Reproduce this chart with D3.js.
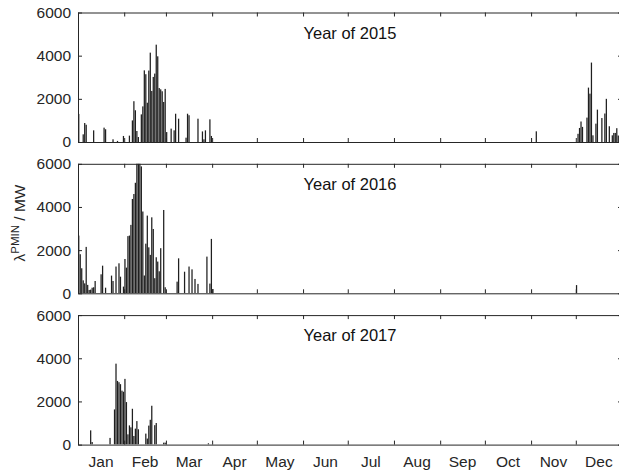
<!DOCTYPE html>
<html>
<head>
<meta charset="utf-8">
<script src="https://cdn.jsdelivr.net/npm/d3@7"></script>
<style>
  body { margin: 0; background: #fff; }
  svg { display: block; font-family: "Liberation Sans", Arial, sans-serif; }
</style>
</head>
<body>
<svg id="chart" width="619" height="472"></svg>
<script>
/* Data: [day of year (0 = 1 Jan), value in MW], days not listed are zero */
var years = ["2015", "2016", "2017"];

var mw2015 = [
  [0,1300],[3,355],[4,880],[5,800],[10,540],[17,665],[18,590],[23,125],[26,50],[30,280],[34,295],
  [36,1000],[37,1890],[38,1470],[39,510],[40,230],
  [42,1280],[43,1650],[44,3320],[45,3140],[46,1820],[47,3310],[48,4140],[49,2365],[50,3015],
  [51,3170],[52,4510],[53,3970],[54,2500],[55,2440],[56,2350],[57,1855],[58,2460],[59,460],
  [62,620],[64,540],[65,1310],[67,1080],[72,200],[73,1310],[74,1240],[80,1080],
  [83,490],[84,125],[85,540],[88,1050],[89,280],
  [307,495],
  [335,380],[336,650],[337,950],[338,700],[341,1130],[342,2520],[343,2240],[344,3680],[345,310],
  [347,850],[348,1500],[351,1110],[353,1320],[354,2000],[356,730],[358,310],[359,420],[360,420],
  [361,640],[362,300],[363,550]
];

var mw2016 = [
  [0,2675],[1,1810],[2,1160],[3,600],[4,460],[5,2150],[6,390],[7,155],[8,170],[9,260],[10,280],[11,570],
  [15,880],[16,1280],[18,260],[22,820],[23,570],[25,1240],[27,1390],[28,770],[30,310],
  [31,1590],[32,1190],[33,2650],[34,2675],[35,3170],[36,4370],[37,4600],[38,5120],[39,6200],
  [40,6200],[41,6200],[42,5880],[43,3790],[44,825],[45,2300],[46,3600],[47,2130],[48,1780],
  [49,3520],[50,2980],[51,700],[52,1670],[53,1470],[54,1020],[55,2090],[57,3860],[58,280],
  [66,540],[67,1620],[71,1000],[74,1240],[76,1110],[78,665],[80,435],[86,1700],[88,450],[89,2520],[90,200],
  [334,380]
];

var mw2017 = [
  [8,660],[9,120],[21,310],[24,1630],[25,3750],[26,2950],[27,2890],[28,2800],[29,2500],[30,2450],
  [31,3045],[32,1970],[33,475],[34,890],[35,800],[36,1660],[37,400],[38,740],[39,1090],[40,710],
  [45,510],[46,280],[47,880],[48,1150],[49,1800],[51,900],[52,1000],[57,90],[58,90],[87,60]
];

var series = [mw2015, mw2016, mw2017];
var yTicks = [0, 2000, 4000, 6000];

/* Layout */
var set = {
  left : 78,
  right : 622,
  top : 12.5,
  panelH : 129.5,
  gap : 21.8,
  axisColor : "#262626",
  barColor : "#1f1f1f",
  fontTick : 15.5,
  fontTitle : 16.5
};

var svg = d3.select("svg#chart");

var start = new Date(Date.UTC(2015, 0, 1));
var end = new Date(Date.UTC(2016, 0, 1));

var x = d3.scaleUtc()
  .domain([start, end])
  .range([set.left, set.right]);

var dayW = x(d3.utcDay.offset(start, 1)) - x(start);
var months = d3.utcMonth.range(start, end);

series.forEach(function(data, i) {
  var top = set.top + i * (set.panelH + set.gap);
  var y = d3.scaleLinear().domain([0, 6000]).range([top + set.panelH, top]);

  var g = svg.append("g").attr("class", "panel");

  g.append("clipPath").attr("id", "clip" + i)
    .append("rect")
    .attr("x", set.left).attr("y", top)
    .attr("width", set.right - set.left).attr("height", set.panelH);

  /* bars */
  g.append("g").attr("clip-path", "url(#clip" + i + ")")
    .selectAll("rect")
    .data(data)
    .enter()
    .append("rect")
    .attr("x", d => x(d3.utcDay.offset(start, d[0])) + dayW * 0.08)
    .attr("width", dayW * 0.84)
    .attr("y", d => y(d[1]))
    .attr("height", d => y(0) - y(d[1]))
    .attr("fill", set.barColor);

  /* axes, ticks pointing inward */
  var left = g.append("g")
    .attr("transform", `translate(${set.left},0)`)
    .call(d3.axisLeft(y).tickValues(yTicks).tickFormat(d3.format("d"))
      .tickSizeInner(-4).tickSizeOuter(0).tickPadding(7));
  g.append("g")
    .attr("transform", `translate(${set.right},0)`)
    .call(d3.axisRight(y).tickValues(yTicks).tickSizeInner(-4).tickSizeOuter(0).tickFormat(""));
  g.append("g")
    .attr("transform", `translate(0,${top})`)
    .call(d3.axisTop(x).tickValues(months).tickSizeInner(-4).tickSizeOuter(0).tickFormat(""));
  g.append("g")
    .attr("transform", `translate(0,${top + set.panelH})`)
    .call(d3.axisBottom(x).tickValues(months).tickSizeInner(-4).tickSizeOuter(0).tickFormat(""));

  g.selectAll(".domain, .tick line").attr("stroke", set.axisColor);
  left.selectAll("text")
    .attr("fill", set.axisColor)
    .style("font-size", set.fontTick + "px")
    .style("font-family", "inherit");

  /* title */
  g.append("text")
    .attr("x", (set.left + set.right) / 2)
    .attr("y", top + 26)
    .attr("text-anchor", "middle")
    .attr("fill", "#111")
    .style("font-size", set.fontTitle + "px")
    .text("Year of " + years[i]);

  /* month names under last panel */
  if (i === series.length - 1) {
    g.selectAll(".month")
      .data(months)
      .enter()
      .append("text")
      .attr("class", "month")
      .attr("x", d => (x(d) + x(d3.utcMonth.offset(d, 1))) / 2)
      .attr("y", top + set.panelH + 22)
      .attr("text-anchor", "middle")
      .attr("fill", set.axisColor)
      .style("font-size", set.fontTick + "px")
      .text(d3.utcFormat("%b"));
  }
});

/* y label */
var yLab = svg.append("text")
  .attr("transform", "translate(25,223) rotate(-90)")
  .attr("text-anchor", "middle")
  .attr("fill", set.axisColor)
  .style("font-size", "15.5px");
yLab.append("tspan").text("λ");
yLab.append("tspan").attr("dy", -6).style("font-size", "11.5px").text("PMIN");
yLab.append("tspan").attr("dy", 6).text(" / MW");
</script>
</body>
</html>
